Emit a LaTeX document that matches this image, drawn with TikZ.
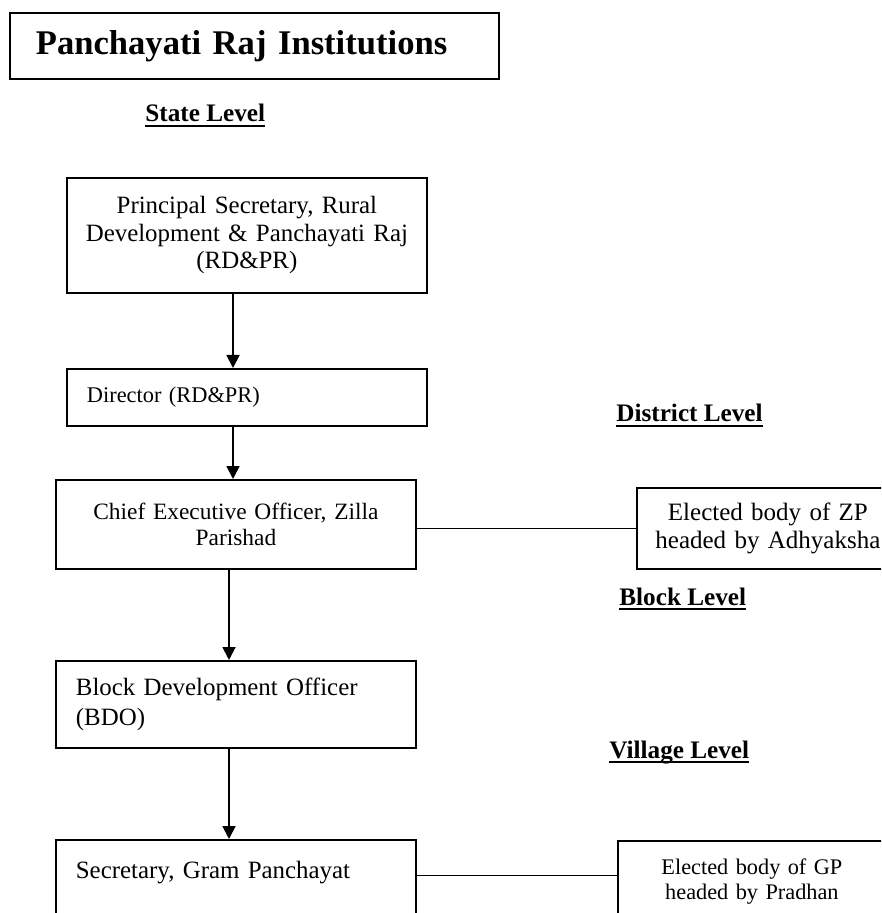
\documentclass[tikz,border=0pt]{standalone}
\usepackage{fontspec}
\setmainfont{Liberation Serif}
\usepackage{tikz}
\usetikzlibrary{arrows.meta,calc,positioning}
% underlined level headings
\newcommand{\levelrule}[1]{\setbox0=\hbox{#1}\rlap{\rule[-2.6pt]{\wd0}{1.1pt}}\box0}
\tikzset{
  post/.style={draw,line width=0.9pt,rectangle,anchor=north west,inner sep=0pt,minimum width=180pt},
  flow/.style={-{Triangle[length=6.5pt,width=6.5pt]},line width=0.9pt},
  tie/.style={line width=0.9pt},
  level/.style={anchor=base west,inner sep=0pt,font=\fontsize{12.6}{14}\selectfont\bfseries},
}

\begin{document}
\begin{tikzpicture}[x=0.5pt,y=-0.5pt]
\clip (0,0) rectangle (881,913);
% title
\node[post,minimum width=244.5pt,minimum height=33pt,text width=218.5pt,inner xsep=13pt,align=left,
  font=\fontsize{17.3}{20}\selectfont\bfseries] (title) at (9,12) {Panchayati Raj Institutions};
% level headings
\node[level] (state) at (145,122) {\levelrule{State Level}};
\node[level] (district) at (616,422) {\levelrule{District Level}};
\node[level] (block) at (619,605) {\levelrule{Block Level}};
\node[level] (village) at (609,758) {\levelrule{Village Level}};
% officials
\node[post,minimum height=57.5pt,text width=180pt,align=center,
  font=\fontsize{12.45}{13.75}\selectfont] (ps) at (66,177)
  {Principal Secretary, Rural\\Development \& Panchayati Raj\\(RD\&PR)};
\node[post,minimum height=28.5pt,text width=160pt,inner xsep=10pt,align=left,
  font=\fontsize{11.2}{13}\selectfont] (dir) at (66,368) {Director (RD\&PR)};
\node[post,minimum height=44.5pt,text width=180pt,align=center,
  font=\fontsize{11.7}{13}\selectfont] (ceo) at (55,479)
  {Chief Executive Officer, Zilla\\Parishad};
\node[post,minimum height=43.5pt,text width=160pt,inner xsep=10pt,align=left,
  font=\fontsize{12.45}{15}\selectfont] (bdo) at (55,660)
  {Block Development Officer\\(BDO)};
\node[post,minimum height=45pt,text width=160pt,inner xsep=10pt,align=left,
  font=\fontsize{12.45}{15}\selectfont] (sec) at (55,839)
  {Secretary, Gram Panchayat\\~};
% elected bodies
\node[post,minimum width=131pt,minimum height=40.5pt,text width=131pt,align=center,
  font=\fontsize{12.5}{14}\selectfont] (zp) at (636,487)
  {Elected body of ZP\\headed by Adhyaksha};
\node[post,minimum width=134pt,minimum height=40.5pt,text width=134pt,align=center,
  font=\fontsize{11.15}{12.5}\selectfont] (gp) at (617,840)
  {Elected body of GP\\headed by Pradhan};
% arrows
\coordinate (upper) at (233,0);
\coordinate (lower) at (229,0);
\draw[flow] (ps.south -| upper) -- (dir.north -| upper);
\draw[flow] (dir.south -| upper) -- (ceo.north -| upper);
\draw[flow] (ceo.south -| lower) -- (bdo.north -| lower);
\draw[flow] (bdo.south -| lower) -- (sec.north -| lower);
\draw[tie] (zp.west -| ceo.east) -- (zp.west);
\draw[tie] ([yshift=3pt]gp.west -| sec.east) -- ([yshift=3pt]gp.west);
\end{tikzpicture}
\end{document}
